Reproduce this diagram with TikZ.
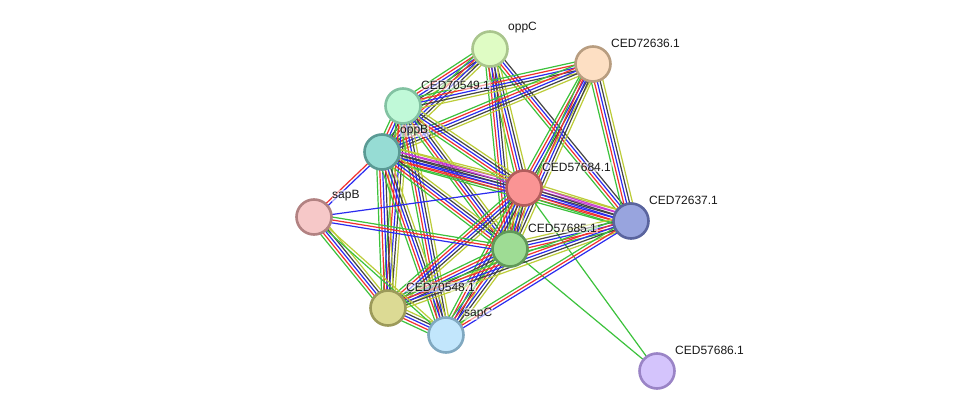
\documentclass[tikz,border=0pt]{standalone}
\usepackage{fontspec}
\setmainfont{Liberation Sans}
\usetikzlibrary{calc}
\pgfdeclarelayer{back}
\pgfdeclarelayer{bg}
\pgfsetlayers{back,bg,main}
\definecolor{cgreen}{HTML}{3CC23C}
\definecolor{cred}{HTML}{F2302E}
\definecolor{cblue}{HTML}{2B2BF0}
\definecolor{cblack}{HTML}{444444}
\definecolor{cyel}{HTML}{BCCC38}
\definecolor{cmag}{HTML}{C83CD2}
\definecolor{fA}{HTML}{DFFCC4}\definecolor{dA}{HTML}{A9C58D}
\definecolor{fB}{HTML}{FDDFC3}\definecolor{dB}{HTML}{B89D80}
\definecolor{fC}{HTML}{C0F9D8}\definecolor{dC}{HTML}{82C2A2}
\definecolor{fD}{HTML}{96DCD4}\definecolor{dD}{HTML}{5A9A94}
\definecolor{fE}{HTML}{FA9494}\definecolor{dE}{HTML}{B25C5C}
\definecolor{fF}{HTML}{F6C8C8}\definecolor{dF}{HTML}{B28282}
\definecolor{fG}{HTML}{98A4DE}\definecolor{dG}{HTML}{5A649E}
\definecolor{fH}{HTML}{9EDC94}\definecolor{dH}{HTML}{609A58}
\definecolor{fI}{HTML}{DCDA94}\definecolor{dI}{HTML}{9C9A5A}
\definecolor{fJ}{HTML}{C2E6FC}\definecolor{dJ}{HTML}{80A8C0}
\definecolor{fK}{HTML}{D4C4FC}\definecolor{dK}{HTML}{9A84C6}
\tikzset{
  prot/.style={circle, minimum size=35pt, line width=2.6pt, inner sep=0pt},
  lab/.style={anchor=west, font=\fontsize{12}{14}\selectfont, inner sep=0.6pt, text=black!90,
    fill=white, fill opacity=0.55, text opacity=1},
  ln/.style={line width=1.2pt},
  eg/.style={draw=cgreen},
  er/.style={draw=cred},
  eb/.style={draw=cblue},
  ek/.style={draw=cblack},
  ey/.style={draw=cyel},
  em/.style={draw=cmag},
}
\newcommand\sedge[3]{%
  \foreach \cc [count=\nn] in {#3}{\xdef\ecount{\nn}}%
  \foreach \cc [count=\ii] in {#3}{%
    \pgfmathsetmacro\off{(\ii-(\ecount+1)/2)*2.9}%
    \draw[ln,\cc] ($(#1.center)!\off pt!90:(#2.center)$) -- ($(#2.center)!\off pt!-90:(#1.center)$);
  }}
\begin{document}
\begin{tikzpicture}[x=1pt,y=-1pt]
\begin{pgfonlayer}{back}
\fill[white] (0,0) rectangle (975,417);
\end{pgfonlayer}
\useasboundingbox (0,0) rectangle (975,417);
% nodes
\node[prot, fill=fA, draw=dA] (A) at (490,49) {};
\node[prot, fill=fB, draw=dB] (B) at (593,64) {};
\node[prot, fill=fC, draw=dC] (C) at (403,106) {};
\node[prot, fill=fD, draw=dD] (D) at (382,152) {};
\node[prot, fill=fE, draw=dE] (E) at (524,188) {};
\node[prot, fill=fF, draw=dF] (F) at (314,217) {};
\node[prot, fill=fG, draw=dG] (G) at (631,221) {};
\node[prot, fill=fH, draw=dH] (H) at (510,249) {};
\node[prot, fill=fI, draw=dI] (I) at (388,308) {};
\node[prot, fill=fJ, draw=dJ] (J) at (446,335) {};
\node[prot, fill=fK, draw=dK] (K) at (657,371) {};
% edges
\begin{pgfonlayer}{bg}
\sedge{A}{C}{eg,er,eb,ek,ey}
\sedge{A}{D}{eg,er,eb,ek,ey}
\sedge{A}{E}{eg,er,eb,ek,ey}
\sedge{A}{H}{eg,er,eb,ek,ey}
\sedge{A}{G}{eg,er,eb,ek}
\sedge{B}{C}{eg,er,eb,ek,ey}
\sedge{B}{D}{eg,er,eb,ek,ey}
\sedge{B}{E}{eg,er,eb,ek,ey}
\sedge{B}{H}{eg,er,eb,ek,ey}
\sedge{B}{G}{eg,er,eb,ek,ey}
\sedge{C}{D}{eg,er,eb,ek,ey}
\sedge{C}{E}{eg,er,eb,ek,ey}
\sedge{C}{H}{eg,er,eb,ek,ey}
\sedge{C}{I}{eg,er,eb,ek,ey}
\sedge{C}{J}{eg,er,eb,ek,ey}
\sedge{D}{E}{eg,er,eb,ek,em,ey}
\sedge{D}{G}{eg,er,eb,ek,em,ey}
\sedge{D}{H}{eg,er,eb,ek,ey}
\sedge{D}{I}{eg,er,eb,ek,ey}
\sedge{D}{J}{eg,er,eb,ek,ey}
\sedge{D}{F}{er,eb}
\sedge{E}{G}{eg,er,eb,ek,em,ey}
\sedge{E}{H}{eg,er,eb,ek,ey}
\sedge{E}{I}{eg,er,eb,ek,ey}
\sedge{E}{J}{eg,er,eb,ek,ey}
\sedge{E}{F}{eb}
\sedge{E}{K}{eg}
\sedge{H}{G}{eg,er,eb,ek,ey}
\sedge{H}{I}{eg,er,eb,ek,ey}
\sedge{H}{J}{eg,er,eb,ek,ey}
\sedge{H}{F}{eg,er,eb}
\sedge{H}{K}{eg}
\sedge{G}{I}{eg,er,eb,ek,ey}
\sedge{G}{J}{eg,er,eb}
\sedge{I}{J}{eg,er,eb,ek,ey}
\sedge{F}{I}{eg,er,eb,ek,ey}
\sedge{F}{J}{eg,ey}
\end{pgfonlayer}
% labels
\node[lab] (lA) at ($(A.center)+(17.4,-21)$) {oppC};
\node[lab] (lB) at ($(B.center)+(17.4,-21)$) {CED72636.1};
\node[lab] (lC) at ($(C.center)+(17.4,-21)$) {CED70549.1};
\node[lab] (lD) at ($(D.center)+(17.4,-21)$) {oppB};
\node[lab] (lE) at ($(E.center)+(17.4,-21)$) {CED57684.1};
\node[lab] (lF) at ($(F.center)+(17.4,-21)$) {sapB};
\node[lab] (lG) at ($(G.center)+(17.4,-21)$) {CED72637.1};
\node[lab] (lH) at ($(H.center)+(17.4,-21)$) {CED57685.1};
\node[lab] (lI) at ($(I.center)+(17.4,-21)$) {CED70548.1};
\node[lab] (lJ) at ($(J.center)+(17.4,-21)$) {sapC};
\node[lab] (lK) at ($(K.center)+(17.4,-21)$) {CED57686.1};
\end{tikzpicture}
\end{document}
